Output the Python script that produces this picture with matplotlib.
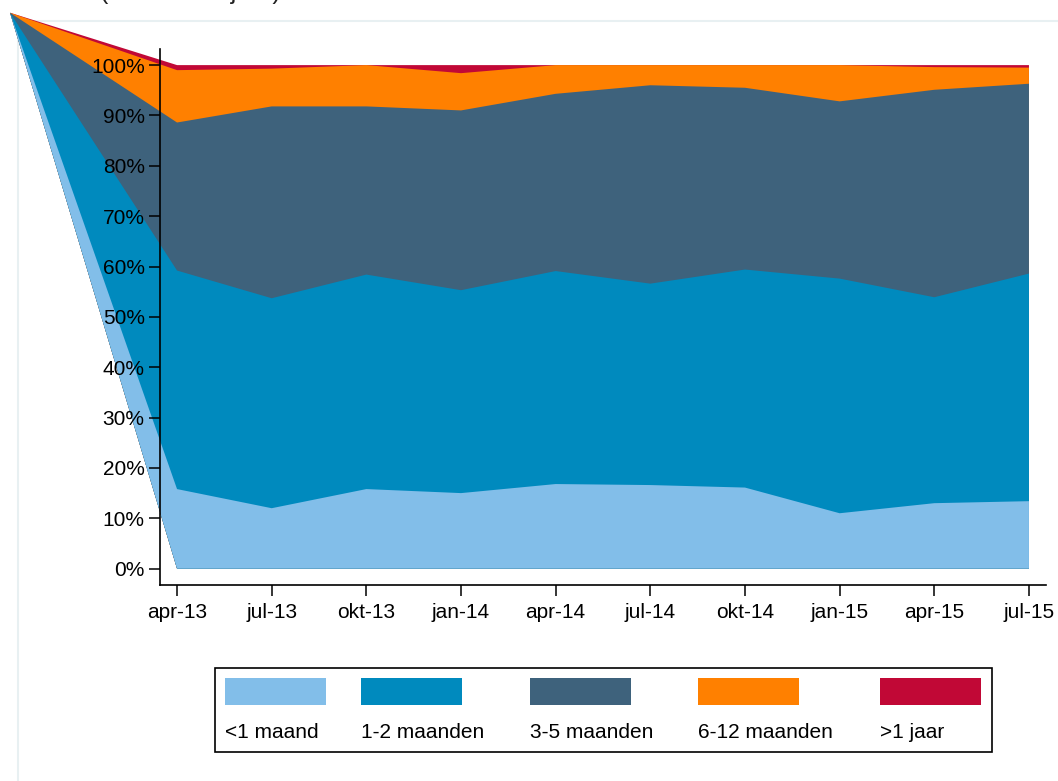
import numpy as np
import matplotlib
matplotlib.use("Agg")
import matplotlib.pyplot as plt
from matplotlib.patches import Polygon, Rectangle

plt.rcParams['font.family'] = ['Liberation Sans', 'DejaVu Sans']

periods = ["apr-13", "jul-13", "okt-13", "jan-14", "apr-14", "jul-14",
           "okt-14", "jan-15", "apr-15", "jul-15"]
categories = ["<1 maand", "1-2 maanden", "3-5 maanden", "6-12 maanden", ">1 jaar"]
lt1 = [15.8, 12.0, 15.8, 15.0, 16.8, 16.6, 16.1, 11.0, 13.0, 13.4]
m1_2 = [43.4, 41.7, 42.6, 40.3, 42.3, 40.0, 43.3, 46.6, 40.9, 45.2]
m3_5 = [29.4, 38.1, 33.4, 35.7, 35.2, 39.4, 36.1, 35.2, 41.2, 37.7]
m6_12 = [10.4, 7.5, 8.2, 7.4, 5.7, 4.0, 4.5, 7.2, 4.5, 3.2]
gt1j = [1.0, 0.7, 0.0, 1.6, 0.0, 0.0, 0.0, 0.0, 0.4, 0.5]
colors = ["#82BEE9", "#008ABE", "#3E627C", "#FF8000", "#C10836"]

# stray vertex of each area polygon (data units), as in the original rendering
APEX = (-1.764, 110.4)

W, H = 1058, 781
fig = plt.figure(figsize=(W / 100, H / 100), dpi=100)

# faint panel border
fig.patches.append(Rectangle((18 / W, -0.1), 1.2, (1 - 20.5 / H) + 0.1,
                             transform=fig.transFigure, fill=False,
                             edgecolor="#E8F0F2", linewidth=1.5, zorder=-5))

ax = fig.add_axes([160 / W, 1 - 585 / H, (1046 - 160) / W, (585 - 49) / H])
ax.patch.set_alpha(0)

x = np.arange(len(periods))
series = [lt1, m1_2, m3_5, m6_12, gt1j]
cum = np.cumsum(np.array(series), axis=0)

for k in range(len(series) - 1, -1, -1):
    top = cum[k]
    verts = [APEX] + list(zip(x, top)) + [(x[-1], 0), (x[0], 0)]
    poly = Polygon(verts, closed=True, facecolor=colors[k], edgecolor="none",
                   clip_on=False, zorder=0.5 + 0.1 * (len(series) - k))
    ax.add_patch(poly)

ax.set_xlim(-0.18, 9.18)
ax.set_ylim(-3.25, 103.2)
ax.set_xticks(x)
ax.set_xticklabels(periods)
yt = np.arange(0, 101, 10)
ax.set_yticks(yt)
ax.set_yticklabels([f"{v}%" for v in yt])
for s in ["top", "right"]:
    ax.spines[s].set_visible(False)
for s in ["left", "bottom"]:
    ax.spines[s].set_linewidth(1.2)
    ax.spines[s].set_zorder(10)
ax.xaxis.set_zorder(5)
ax.yaxis.set_zorder(5)
ax.tick_params(axis="both", direction="out", length=8, width=1.1,
               labelsize=15, colors="black")
ax.tick_params(axis="y", pad=3)
ax.tick_params(axis="x", pad=5)

# cut-off subtitle at the very top
fig.text(190 / W, 1 - 4 / H, "(aandeel in jaar)", ha="center", va="bottom",
         fontsize=18, color="#222222")

# legend box drawn in figure pixels
fig.patches.append(Rectangle((215 / W, 1 - 752 / H), (992 - 215) / W, (752 - 668) / H,
                             transform=fig.transFigure, fill=False,
                             edgecolor="black", linewidth=1.2))
lefts = [225, 361, 530, 698, 880]
for lx, lab, c in zip(lefts, categories, colors):
    fig.patches.append(Rectangle((lx / W, 1 - 705 / H), 101 / W, 27 / H,
                                 transform=fig.transFigure, facecolor=c,
                                 edgecolor="none"))
    fig.text(lx / W, 1 - 733 / H, lab, ha="left", va="center", fontsize=15)

fig.savefig("out.png", dpi=100)
